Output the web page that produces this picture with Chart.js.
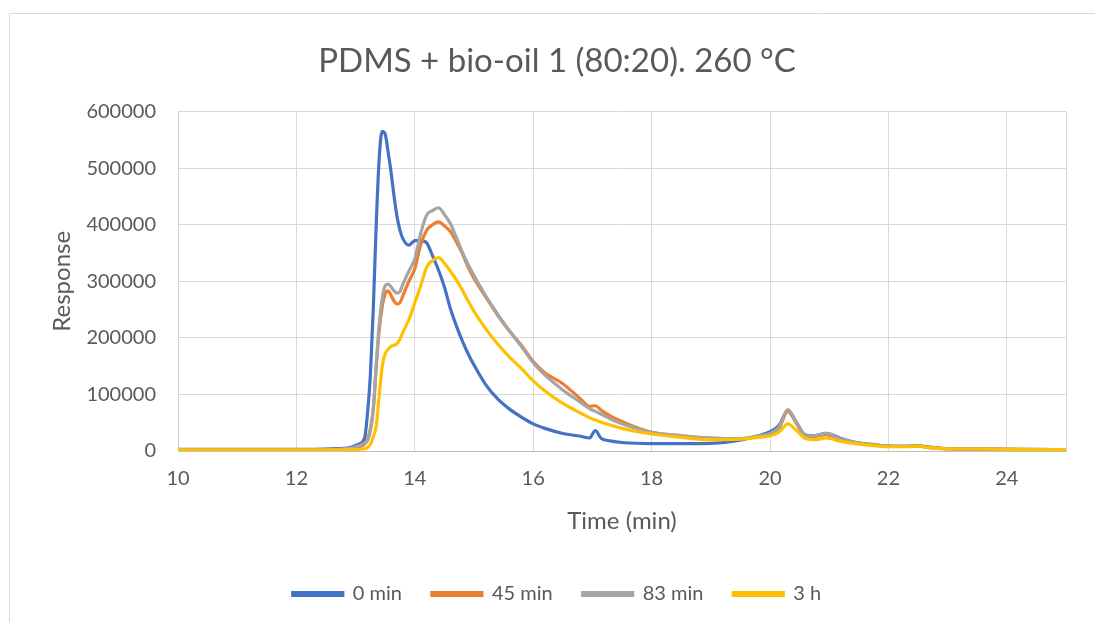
<!DOCTYPE html>
<html>
<head>
<meta charset="utf-8">
<script src="https://cdn.jsdelivr.net/npm/chart.js@4"></script>
<style>
  html, body { margin: 0; padding: 0; background: #fff; }
  #wrap { width: 1095px; height: 622px; position: relative; }
</style>
</head>
<body>
<div id="wrap"><canvas id="myChart" width="1095" height="622"></canvas></div>
<script>
const times = [10, 11, 12, 12.6, 12.9, 13.05, 13.15, 13.2, 13.25, 13.3, 13.35, 13.4, 13.45, 13.5, 13.55, 13.6, 13.65, 13.7, 13.75, 13.8,
    13.9, 14.0, 14.1, 14.2, 14.3, 14.4, 14.5, 14.6, 14.7, 14.8, 14.9, 15.0, 15.2, 15.4, 15.6, 15.8, 16.0, 16.2, 16.5, 16.8,
    16.95, 17.05, 17.15, 17.3, 17.5, 18.0, 18.5, 19.0, 19.5, 19.8, 20.0, 20.15, 20.3, 20.45, 20.6, 20.75, 20.95, 21.2, 21.5, 21.8,
    22.0, 22.3, 22.5, 22.7, 23.0, 23.5, 24, 25];

const min0 = [3000, 3000, 3000, 4000, 6000, 12000, 22000, 65000, 135000, 255000, 405000, 520000, 565000, 560000, 528000, 492000, 450000, 414000, 390000, 375000,
    364000, 372000, 372000, 368000, 345000, 320000, 290000, 252000, 222000, 195000, 172000, 152000, 117000, 92000, 74000, 60000, 48000, 40000, 31000, 26000,
    23000, 36000, 22000, 18000, 15000, 13000, 13000, 13500, 19000, 27000, 34000, 45000, 71000, 50000, 28000, 27000, 31000, 22000, 14000, 10000,
    8500, 8000, 9000, 7000, 4000, 3500, 3000, 2500];

const min45 = [2000, 2000, 2000, 2500, 4000, 7000, 12000, 20000, 40000, 75000, 150000, 215000, 255000, 278000, 283000, 275000, 265000, 260000, 262000, 275000,
    300000, 322000, 365000, 390000, 400000, 405000, 398000, 388000, 370000, 350000, 325000, 305000, 272000, 240000, 212000, 187000, 158000, 138000, 119000, 92000,
    79000, 80000, 72000, 62000, 52000, 33000, 27000, 23000, 22000, 26000, 30000, 40000, 70000, 48000, 26000, 26000, 29000, 20000, 14000, 11000,
    8000, 8000, 9000, 6000, 4000, 3500, 3000, 2500];

const min83 = [2000, 2000, 2000, 2500, 5000, 9000, 14000, 18000, 35000, 77000, 155000, 225000, 270000, 292000, 295000, 290000, 283000, 279000, 282000, 295000,
    318000, 340000, 385000, 417000, 425000, 430000, 418000, 402000, 378000, 352000, 330000, 310000, 274000, 242000, 212000, 185000, 156000, 134000, 108000, 86000,
    75000, 70000, 65000, 57000, 48000, 33000, 27000, 23000, 22000, 27000, 31000, 42000, 73000, 50000, 27000, 27000, 31000, 21000, 14000, 11000,
    8000, 8000, 9000, 6000, 4000, 3500, 3000, 2500];

const h3 = [2000, 2000, 2000, 2000, 2500, 3000, 4000, 6000, 12000, 25000, 45000, 100000, 150000, 172000, 180000, 185000, 187000, 190000, 198000, 210000,
    232000, 262000, 292000, 325000, 337000, 342000, 332000, 318000, 303000, 285000, 265000, 247000, 216000, 189000, 166000, 146000, 124000, 106000, 84000, 67000,
    59000, 55000, 51000, 46000, 40000, 30000, 24000, 20000, 21000, 24000, 27000, 33000, 48000, 36000, 22000, 20000, 23000, 17000, 12000, 9000,
    7500, 7500, 8500, 6000, 4000, 3500, 3000, 2500];

const seriesNames = ["0 min", "45 min", "83 min", "3 h"];
const seriesColors = ["#4472C4", "#ED7D31", "#A5A5A5", "#FFC000"];
const seriesValues = [min0, min45, min83, h3];

const textColor = "#595959";
const fontName = "Lato, 'Open Sans', sans-serif";

const toPoints = (vals) => times.map((t, i) => ({ x: t, y: vals[i] }));

// outer chart frame like the spreadsheet one
const framePlugin = {
    id: "frame",
    beforeDraw(chart) {
        const c = chart.ctx;
        c.save();
        c.fillStyle = "#fff";
        c.fillRect(0, 0, chart.width, chart.height);
        c.strokeStyle = "#d9d9d9";
        c.lineWidth = 1;
        c.beginPath();
        c.moveTo(9.5, chart.height);
        c.lineTo(9.5, 13.5);
        c.lineTo(chart.width, 13.5);
        c.stroke();
        c.restore();
    }
};

const ctx = document.getElementById("myChart").getContext("2d");
const myChart = new Chart(ctx, {
    type: "line",
    data: {
        datasets: seriesNames.map((name, i) => ({
            label: name,
            data: toPoints(seriesValues[i]),
            borderColor: seriesColors[i],
            backgroundColor: seriesColors[i],
            borderWidth: 3.2,
            pointRadius: 0,
            cubicInterpolationMode: "monotone",
            order: seriesNames.length - i,
        })),
    },
    options: {
        responsive: false,
        animation: false,
        events: [],
        layout: { padding: { left: 48, right: 29, top: 0, bottom: 8 } },
        plugins: {
            title: {
                display: true,
                text: "PDMS + bio-oil 1 (80:20). 260 °C",
                color: textColor,
                font: { family: fontName, size: 33, weight: "normal" },
                padding: { top: 42, bottom: 30 },
            },
            legend: {
                position: "bottom",
                labels: {
                    color: textColor,
                    font: { family: fontName, size: 20 },
                    boxWidth: 50,
                    boxHeight: 3,
                    padding: 30,
                    sort: (a, b) => a.datasetIndex - b.datasetIndex,
                },
            },
            tooltip: { enabled: false },
        },
        scales: {
            x: {
                type: "linear",
                min: 10,
                max: 25,
                ticks: {
                    stepSize: 2,
                    color: textColor,
                    font: { family: fontName, size: 20 },
                    padding: 16,
                    callback: (v) => (v <= 24 ? v : ""),
                },
                grid: { color: "#d9d9d9", drawTicks: false },
                border: { color: "#bfbfbf" },
                title: {
                    display: true,
                    text: "Time (min)",
                    color: textColor,
                    font: { family: fontName, size: 24 },
                    padding: { top: 12, bottom: 18 },
                },
                afterFit: (scale) => { scale.height = 103; },
            },
            y: {
                min: 0,
                max: 600000,
                ticks: {
                    stepSize: 100000,
                    color: textColor,
                    font: { family: fontName, size: 20 },
                    padding: 22,
                    callback: (v) => String(v),
                },
                grid: { color: "#d9d9d9", drawTicks: false },
                border: { color: "#d0d0d0" },
                title: {
                    display: true,
                    text: "Response",
                    color: textColor,
                    font: { family: fontName, size: 24 },
                    padding: { top: 0, bottom: 0 },
                },
                afterFit: (scale) => { scale.width = 130; },
            },
        },
    },
    plugins: [framePlugin],
});
</script>
</body>
</html>
